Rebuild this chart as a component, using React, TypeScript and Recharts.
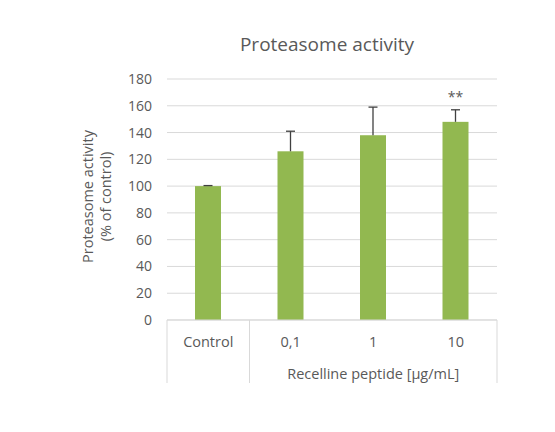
import React from 'react';
import { BarChart, Bar, XAxis, YAxis, CartesianGrid, Customized } from 'recharts';

const categories = ['Control', '0,1', '1', '10'];
const activity = [100, 126, 138, 148];
const errorUp = [0.4, 15, 21, 9];
const significance = ['', '', '', '**'];
const yTicks = [0, 20, 40, 60, 80, 100, 120, 140, 160, 180];
const groupLabel = 'Recelline peptide [µg/mL]';
const chartTitle = 'Proteasome activity';
const yLabelLines = ['Proteasome activity', '(% of control)'];

const data = categories.map((c, i) => ({
  category: c,
  value: activity[i],
  err: errorUp[i],
  sig: significance[i],
}));

const FONT = '"Open Sans", "Noto Sans", sans-serif';
const TEXT = '#595959';
const GRID = '#d9d9d9';
const BAR = '#92B850';
const ERR = '#404040';

const BarWithError = (props: any) => {
  const { x, y, width, height, payload, fill } = props;
  if (!payload || height <= 0) return null;
  const ppu = height / payload.value;
  const top = y - payload.err * ppu;
  const cx = x + width / 2;
  return (
    <g>
      <rect x={x} y={y} width={width} height={height} fill={fill} />
      <line x1={cx} y1={y} x2={cx} y2={top} stroke={ERR} strokeWidth={1.3} />
      <line x1={cx - 4.5} y1={top} x2={cx + 4.5} y2={top} stroke={ERR} strokeWidth={1.3} />
      {payload.sig ? (
        <text x={cx} y={top - 8} textAnchor="middle" fill={TEXT} fontSize={14} fontFamily={FONT}>
          {payload.sig}
        </text>
      ) : null}
    </g>
  );
};

const CategoryTick = (props: any) => {
  const { x, y, payload, index, width, visibleTicksCount } = props;
  const band = width / visibleTicksCount;
  const half = band / 2;
  const lineLen = 63;
  return (
    <g>
      <text x={x} y={y + 27} textAnchor="middle" fill={TEXT} fontSize={14.5} fontFamily={FONT}>
        {payload.value}
      </text>
      {index === 0 ? (
        <>
          <line x1={x - half} y1={y} x2={x - half} y2={y + lineLen} stroke={GRID} />
          <line x1={x + half} y1={y} x2={x + half} y2={y + lineLen} stroke={GRID} />
        </>
      ) : null}
      {index === visibleTicksCount - 1 ? (
        <>
          <line x1={x + half} y1={y} x2={x + half} y2={y + lineLen} stroke={GRID} />
          <text x={x - band} y={y + 59} textAnchor="middle" fill={TEXT} fontSize={14.5} fontFamily={FONT}>
            {groupLabel}
          </text>
        </>
      ) : null}
    </g>
  );
};

const YLabel = (props: any) => {
  const { viewBox } = props;
  const cy = viewBox.y + viewBox.height / 2 - 3;
  const x1 = viewBox.x + 17;
  const x2 = viewBox.x + 35;
  return (
    <g>
      <text x={x1} y={cy} transform={`rotate(-90 ${x1} ${cy})`} textAnchor="middle" dominantBaseline="central" fill={TEXT} fontSize={14.5} fontFamily={FONT}>
        {yLabelLines[0]}
      </text>
      <text x={x2} y={cy} transform={`rotate(-90 ${x2} ${cy})`} textAnchor="middle" dominantBaseline="central" fill={TEXT} fontSize={14.5} fontFamily={FONT}>
        {yLabelLines[1]}
      </text>
    </g>
  );
};

const Title = () => (
  <text x={327} y={51} textAnchor="middle" fill={TEXT} fontSize={19} fontFamily={FONT}>
    {chartTitle}
  </text>
);

export default function App() {
  return (
    <div style={{ position: 'absolute', left: 0, top: 0, width: 555, height: 432, background: '#fff', fontFamily: FONT }}>
      <BarChart
        width={555}
        height={432}
        data={data}
        margin={{ top: 79, right: 58, bottom: 42, left: 70 }}
      >
        <CartesianGrid vertical={false} stroke={GRID} />
        <XAxis
          dataKey="category"
          height={70}
          axisLine={{ stroke: GRID }}
          tickLine={false}
          tickSize={0}
          tickMargin={0}
          interval={0}
          tick={<CategoryTick />}
        />
        <YAxis
          width={97}
          domain={[0, 180]}
          ticks={yTicks}
          axisLine={false}
          tickLine={false}
          tickSize={0}
          tickMargin={15}
          tick={{ fill: TEXT, fontSize: 14, fontFamily: FONT }}
          label={<YLabel />}
        />
        <Bar dataKey="value" fill={BAR} barSize={26} isAnimationActive={false} shape={<BarWithError />} />
        <Customized component={Title} />
      </BarChart>
    </div>
  );
}
